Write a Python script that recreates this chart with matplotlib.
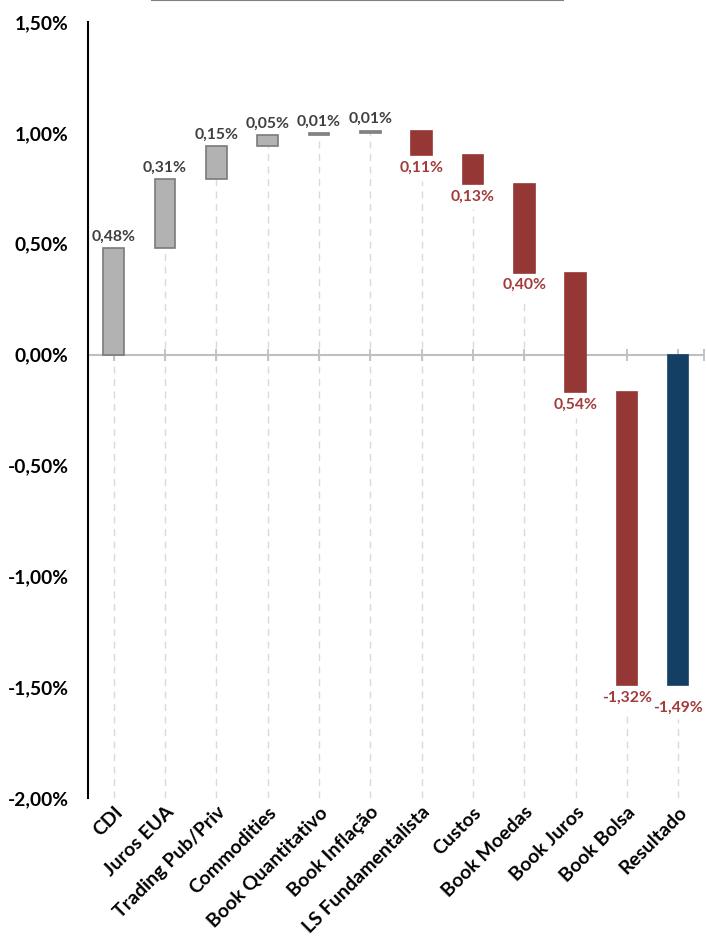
import numpy as np
import matplotlib.pyplot as plt
from matplotlib.ticker import FuncFormatter

categorias = ["CDI", "Juros EUA", "Trading Pub/Priv", "Commodities", "Book Quantitativo",
              "Book Inflação", "LS Fundamentalista", "Custos", "Book Moedas", "Book Juros",
              "Book Bolsa", "Resultado"]
variacao = [0.48, 0.31, 0.15, 0.05, 0.01, 0.01, -0.11, -0.13, -0.40, -0.54, -1.32, -1.49]
rotulos = ["0,48%", "0,31%", "0,15%", "0,05%", "0,01%", "0,01%", "0,11%", "0,13%",
           "0,40%", "0,54%", "-1,32%", "-1,49%"]

plt.rcParams['font.family'] = ['Lato', 'DejaVu Sans']

cinza, cinza_borda = "#B2B2B2", "#7A7A7A"
vermelho, azul = "#953735", "#123F63"

# posicoes do waterfall
n = len(categorias)
x = np.arange(n)
base, altura, cores, bordas = [], [], [], []
acum = 0.0
for i, v in enumerate(variacao):
    if i == n - 1:
        base.append(0.0)
        altura.append(v)
        cores.append(azul)
        bordas.append(azul)
    else:
        base.append(acum)
        altura.append(v)
        acum += v
        cores.append(cinza if v > 0 else vermelho)
        bordas.append(cinza_borda if v > 0 else vermelho)
base = np.array(base)
altura = np.array(altura)
topo = np.maximum(base, base + altura)
fundo = np.minimum(base, base + altura)

fig = plt.figure(figsize=(7.06, 9.5), dpi=100)
ax = fig.add_axes([0.1246, 0.16, 0.8724, 0.8168])

# linhas tracejadas
inicio = np.where(altura > 0, fundo, fundo - 0.115)
inicio[0] = 0.0
inicio[-1] -= 0.04
ax.vlines(x, -2.0, inicio, colors="#DADADA", linestyles=(0, (5, 4)), lw=1.0, zorder=1)

ax.axhline(0, color="#BFBFBF", lw=1.5, zorder=2)
ax.plot(np.append(x, n - 0.5), np.zeros(n + 1), ls="none", marker="|", ms=9,
        mew=1.3, color="#BFBFBF", zorder=2)

ax.bar(x, altura, bottom=base, width=0.4, color=cores, edgecolor=bordas, lw=1.2, zorder=3)

for i in range(n):
    if altura[i] > 0:
        ax.text(x[i], topo[i] + 0.02, rotulos[i], ha="center", va="bottom",
                fontsize=11.3, fontweight="bold", color="#404040")
    else:
        desl = 0.07 if i == n - 1 else 0.025
        ax.text(x[i], fundo[i] - desl, rotulos[i], ha="center", va="top",
                fontsize=11.3, fontweight="bold", color="#A23C3A")

ax.set_xlim(-0.5, n - 0.5)
ax.set_ylim(-2.0, 1.5)
ax.set_yticks(np.arange(-2.0, 1.51, 0.5))
ax.yaxis.set_major_formatter(FuncFormatter(lambda v, p: f"{v:.2f}%".replace(".", ",")))
ax.tick_params(axis="y", length=0, pad=14, labelsize=13.8)
for t in ax.get_yticklabels():
    t.set_fontweight("bold")

ax.set_xticks(x)
ax.set_xticklabels(categorias, rotation=45, ha="right", rotation_mode="anchor",
                   fontsize=14, fontweight="bold")
ax.tick_params(axis="x", length=0, pad=4)

for s in ["top", "right", "bottom"]:
    ax.spines[s].set_visible(False)
ax.spines["left"].set_color("black")
ax.spines["left"].set_linewidth(1.5)

fig.add_artist(plt.Line2D([0.215, 0.798], [0.9995, 0.9995], color="#808080", lw=1.5))

fig.savefig("out.png", dpi=100)
